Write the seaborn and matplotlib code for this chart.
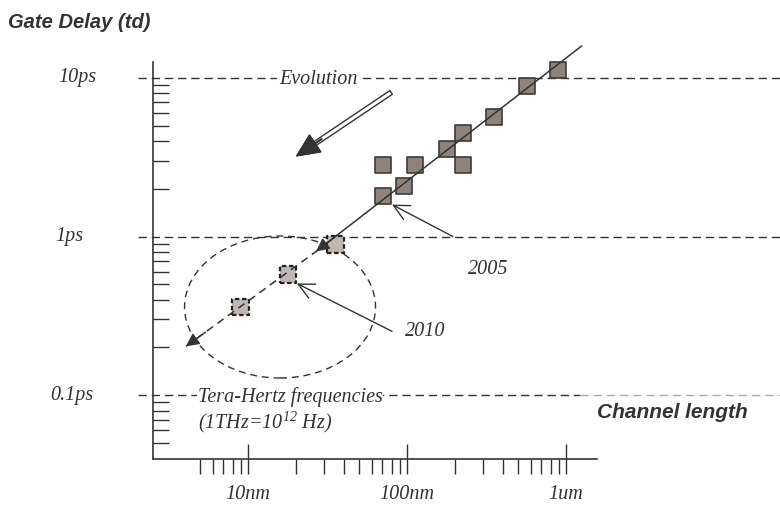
import matplotlib
matplotlib.use("Agg")
import matplotlib.pyplot as plt
import matplotlib.ticker as mticker
from matplotlib.patches import Ellipse
from matplotlib.transforms import blended_transform_factory
import seaborn as sns

# channel length (nm) vs gate delay (ps)
past_length = [894, 566, 354, 226, 179, 226, 112, 71, 96, 71]
past_delay = [11.2, 8.95, 5.66, 4.49, 3.58, 2.84, 2.84, 2.84, 2.09, 1.79]
future_length = [35.6, 17.9, 9.0]
future_delay = [0.89, 0.577, 0.359]

# trend line (solid) and its extrapolation (dashed)
trend_length = [1255, 26.8]
trend_delay = [15.9, 0.805]
forecast_length = [26.8, 4.07]
forecast_delay = [0.805, 0.203]

x_ticks = [10, 100, 1000]
x_labels = ["10nm", "100nm", "1um"]
y_ticks = [10, 1, 0.1]
y_labels = ["10ps", "1ps", "0.1ps"]
y_label_x = [77, 69, 72]  # label centres in figure pixels

INK = "#333333"

sns.set_theme(style="white")
plt.rcParams['font.family'] = ['Liberation Serif', 'DejaVu Serif']
plt.rcParams['mathtext.fontset'] = 'custom'
plt.rcParams['mathtext.rm'] = 'Liberation Serif:italic'
plt.rcParams['mathtext.it'] = 'Liberation Serif:italic'

fig = plt.figure(figsize=(7.8, 5.07), dpi=100)
ax = fig.add_axes([153 / 780, 48 / 507, 627 / 780, 429 / 507])
ax.set_xscale('log')
ax.set_yscale('log')
ax.set_xlim(2.527, 22182)
ax.set_ylim(0.03959, 20.04)

# dashed reference lines at 10ps / 1ps / 0.1ps
dash = (0, (6, 3.5))
ax.axhline(10, xmin=-0.024, xmax=1, clip_on=False, color=INK, lw=1, linestyle=dash)
ax.axhline(1, xmin=-0.024, xmax=1, clip_on=False, color=INK, lw=1, linestyle=dash)
ax.axhline(0.1, xmin=-0.024, xmax=0.681, clip_on=False, color=INK, lw=1, linestyle=dash)
ax.axhline(0.1, xmin=0.681, xmax=1, clip_on=False, color="#aaaaaa", lw=1, linestyle=dash)

# squares
sns.scatterplot(x=past_length, y=past_delay, ax=ax, marker='s', s=140,
                color="#8f827e", edgecolor="#3b3b3b", linewidth=1.2, zorder=3)
sns.scatterplot(x=future_length, y=future_delay, ax=ax, marker='s', s=140,
                color="#c0b6b3", edgecolor="#222222", linewidth=1.6,
                linestyle=(0, (2, 1.2)), zorder=3)

# trend lines
sns.lineplot(x=trend_length, y=trend_delay, ax=ax, color=INK, lw=1.1, zorder=4)
sns.lineplot(x=forecast_length, y=forecast_delay, ax=ax, color=INK, lw=1.1,
             linestyle=(0, (5, 3.5)), zorder=4)

head = dict(arrowstyle='-|>', mutation_scale=20, color=INK, lw=1, shrinkA=0, shrinkB=0)
tip_x, tip_y = trend_length[1], trend_delay[1]
ax.annotate('', xy=(tip_x, tip_y),
            xytext=(tip_x * (trend_length[0] / tip_x) ** 0.08, tip_y * (trend_delay[0] / tip_y) ** 0.08),
            arrowprops=head, zorder=5)
tip_x, tip_y = forecast_length[1], forecast_delay[1]
ax.annotate('', xy=(tip_x, tip_y),
            xytext=(tip_x * (forecast_length[0] / tip_x) ** 0.15, tip_y * (forecast_delay[0] / tip_y) ** 0.15),
            arrowprops=head, zorder=5)

# dashed circle round the future points
ax.add_patch(Ellipse((0.2026, 0.3543), 0.3046, 0.331, transform=ax.transAxes,
                     fill=False, ec=INK, lw=1, linestyle=(0, (5, 3.5))))

# Evolution arrow: hollow shaft, filled head
ax.annotate('', xy=(20.3, 3.23), xytext=(79.5, 8.1),
            arrowprops=dict(arrowstyle='simple,head_length=1.58,head_width=1.44,tail_width=0.32',
                            mutation_scale=10, fc='white', ec=INK, lw=1, shrinkA=0, shrinkB=0))
ax.annotate('', xy=(20.3, 3.23), xytext=(29.1, 4.12),
            arrowprops=dict(arrowstyle='simple,head_length=1.58,head_width=1.44,tail_width=0.05',
                            mutation_scale=10, fc=INK, ec=INK, lw=1, shrinkA=0, shrinkB=0))

# year call-outs
callout = dict(arrowstyle='->,head_length=0.8,head_width=0.4', mutation_scale=14,
               color=INK, lw=1, shrinkA=0, shrinkB=0)
ax.annotate('', xy=(80.5, 1.59), xytext=(194.5, 1.0), arrowprops=callout)
ax.annotate('', xy=(20.3, 0.506), xytext=(80.5, 0.2527), arrowprops=callout)

serif = dict(fontstyle='italic', fontsize=14.5, color=INK)
ax.text(27.6, 9.7, 'Evolution', ha='center', va='center',
        bbox=dict(fc='white', ec='none', pad=1), **serif)
ax.text(323, 0.62, '2005', ha='center', va='center', **serif)
ax.text(130, 0.2527, '2010', ha='center', va='center', **serif)
ax.text(4.85, 0.0971, 'Tera-Hertz frequencies', ha='left', va='center',
        bbox=dict(fc='white', ec='none', pad=0.5), **serif)
ax.text(4.85, 0.0676, '(1THz=10$^{12}$ Hz)', ha='left', va='center', **serif)

sans = dict(family=['Liberation Sans', 'DejaVu Sans'], fontweight='bold',
            fontstyle='italic', color=INK)
ax.text(4645, 0.078, 'Channel length', ha='center', va='center', fontsize=15, **sans)
fig.text(8 / 780, 1 - 22 / 507, 'Gate Delay (td)', ha='left', va='center', fontsize=14.5, **sans)

# y labels next to the dashed lines
ylab_tr = blended_transform_factory(fig.transFigure, ax.transData)
for xp, v, lab in zip(y_label_x, y_ticks, y_labels):
    ax.text(xp / 780, v, lab, transform=ylab_tr, ha='center', va='center', **serif)

# axes and ticks
ax.xaxis.set_major_locator(mticker.FixedLocator(x_ticks))
ax.xaxis.set_major_formatter(mticker.FixedFormatter(x_labels))
minor_x = [m * 10 ** e for e in range(0, 3) for m in range(2, 10)]
ax.xaxis.set_minor_locator(mticker.FixedLocator([v for v in minor_x if v >= 5]))
ax.xaxis.set_minor_formatter(mticker.NullFormatter())
ax.tick_params(axis='x', which='both', bottom=True, top=False)
ax.tick_params(axis='x', which='major', direction='inout', length=22, width=1,
               color=INK, labelsize=14.5, labelcolor=INK, pad=7.5)
ax.tick_params(axis='x', which='minor', direction='out', length=11, width=1, color=INK)
for lbl in ax.get_xticklabels():
    lbl.set_fontstyle('italic')

ax.yaxis.set_major_locator(mticker.FixedLocator(y_ticks))
ax.yaxis.set_major_formatter(mticker.NullFormatter())
minor_y = [m * 10 ** e for e in (-2, -1, 0) for m in range(2, 10)]
ax.yaxis.set_minor_locator(mticker.FixedLocator([v for v in minor_y if v > 0.045]))
ax.yaxis.set_minor_formatter(mticker.NullFormatter())
ax.tick_params(axis='y', which='both', left=True, right=False)
ax.tick_params(axis='y', which='major', length=0)
ax.tick_params(axis='y', which='minor', direction='in', length=11.5, width=1, color=INK)

ax.spines['top'].set_visible(False)
ax.spines['right'].set_visible(False)
for side in ['left', 'bottom']:
    ax.spines[side].set_color(INK)
    ax.spines[side].set_linewidth(1.2)
ax.spines['left'].set_bounds(0.03959, 12.6)
ax.spines['bottom'].set_bounds(2.527, 1567)
ax.grid(False)

fig.savefig("out.png", dpi=100)
